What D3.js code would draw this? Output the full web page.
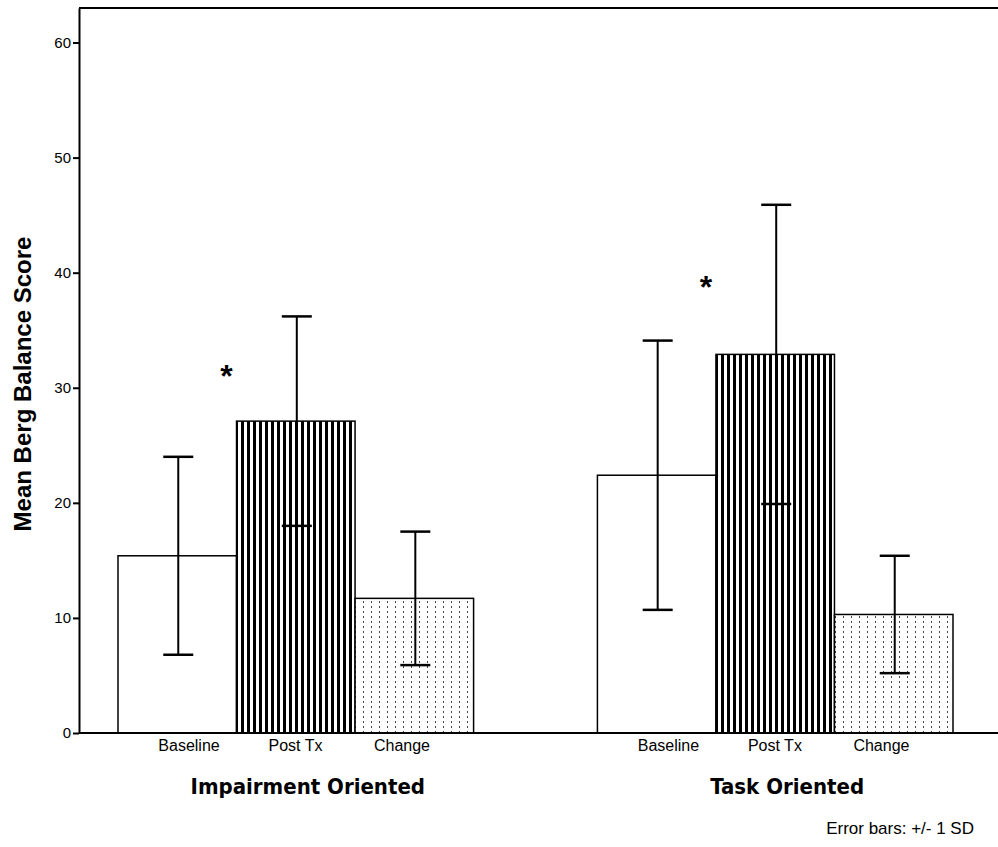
<!DOCTYPE html>
<html>
<head>
<meta charset="utf-8">
<script src="https://cdn.jsdelivr.net/npm/d3@7"></script>
<style>
  html, body { margin: 0; padding: 0; background: #fff; }
  svg { display: block; }
</style>
</head>
<body>
<svg id="chart" width="998" height="847"></svg>
<script>
// ---- data ----
const groups = ["Impairment Oriented", "Task Oriented"];
const categories = ["Baseline", "Post Tx", "Change"];
const impairmentMeans = [15.4, 27.1, 11.7];
const impairmentSD = [8.6, 9.1, 5.8];
const taskMeans = [22.4, 32.9, 10.3];
const taskSD = [11.7, 13.0, 5.1];
const yTicks = [0, 10, 20, 30, 40, 50, 60];
const significantCategory = "Post Tx";
const asteriskLevels = [31.3, 39.0];   // height (in score units) of the "*" marks, per group
const footnote = "Error bars: +/- 1 SD";
const yTitle = "Mean Berg Balance Score";

const data = [];
groups.forEach((g, gi) => {
  const means = gi === 0 ? impairmentMeans : taskMeans;
  const sds = gi === 0 ? impairmentSD : taskSD;
  categories.forEach((c, ci) => data.push({ group: g, cat: c, mean: means[ci], sd: sds[ci] }));
});

const svg = d3.select("#chart");
const W = 998;
const axisX = 79;

const y = d3.scaleLinear().domain([0, 63]).range([733, 8]);
const x0 = d3.scaleBand().domain(groups).range([118, 953]).paddingInner(0.2583).paddingOuter(0);
const x1 = d3.scaleBand().domain(categories).range([0, x0.bandwidth()]).padding(0);
const xLabel = d3.scalePoint().domain(categories).range([71, 284]);

// patterns
const defs = svg.append("defs");
const stripes = defs.append("pattern").attr("id", "stripes")
  .attr("patternUnits", "userSpaceOnUse").attr("width", 6).attr("height", 6);
stripes.append("rect").attr("width", 6).attr("height", 6).attr("fill", "#fff");
stripes.append("rect").attr("x", 1).attr("width", 3).attr("height", 6).attr("fill", "#000");

const dots = defs.append("pattern").attr("id", "dots")
  .attr("patternUnits", "userSpaceOnUse").attr("width", 8).attr("height", 5);
dots.append("rect").attr("width", 8).attr("height", 5).attr("fill", "#fff");
dots.append("rect").attr("x", 3).attr("y", 1).attr("width", 1).attr("height", 2).attr("fill", "#444");

const fills = { "Baseline": "#fff", "Post Tx": "url(#stripes)", "Change": "url(#dots)" };

// frame top line
svg.append("line").attr("x1", axisX).attr("x2", W).attr("y1", y(63)).attr("y2", y(63))
  .attr("stroke", "#000").attr("stroke-width", 2);

// bars
svg.append("g").selectAll("rect").data(data).join("rect")
  .attr("x", d => x0(d.group) + x1(d.cat))
  .attr("y", d => y(d.mean))
  .attr("width", x1.bandwidth())
  .attr("height", d => y(0) - y(d.mean))
  .attr("fill", d => fills[d.cat])
  .attr("stroke", "#000").attr("stroke-width", 1.5);

// error bars
const eb = svg.append("g").attr("stroke", "#000");
const cx = d => x0(d.group) + x1(d.cat) + x1.bandwidth() / 2 + 1;
eb.selectAll("line.v").data(data).join("line").attr("class", "v")
  .attr("x1", cx).attr("x2", cx)
  .attr("y1", d => y(d.mean + d.sd)).attr("y2", d => y(d.mean - d.sd))
  .attr("stroke-width", 2);
eb.selectAll("line.t").data(data).join("line").attr("class", "t")
  .attr("x1", d => cx(d) - 15).attr("x2", d => cx(d) + 15)
  .attr("y1", d => y(d.mean + d.sd)).attr("y2", d => y(d.mean + d.sd))
  .attr("stroke-width", 2.5);
eb.selectAll("line.b").data(data).join("line").attr("class", "b")
  .attr("x1", d => cx(d) - 15).attr("x2", d => cx(d) + 15)
  .attr("y1", d => y(d.mean - d.sd)).attr("y2", d => y(d.mean - d.sd))
  .attr("stroke-width", 2.5);

// significance asterisks
svg.append("g").selectAll("text").data(groups).join("text")
  .attr("x", (g) => x0(g) + x1(significantCategory) - 10)
  .attr("y", (g, i) => y(asteriskLevels[i]) + 14)
  .attr("text-anchor", "middle")
  .attr("font-family", "Liberation Sans, Arial, sans-serif")
  .attr("font-weight", "bold").attr("font-size", 32)
  .text("*");

// y axis
const yAxis = svg.append("g").attr("transform", `translate(${axisX},0)`)
  .call(d3.axisLeft(y).tickValues(yTicks).tickSize(6).tickSizeOuter(0).tickPadding(2));
yAxis.select(".domain").attr("stroke-width", 2);
yAxis.selectAll(".tick line").attr("stroke-width", 2);
yAxis.selectAll(".tick text").attr("font-family", "Liberation Sans, Arial, sans-serif")
  .attr("font-size", 15).attr("fill", "#000");

// x axis line
svg.append("line").attr("x1", axisX).attr("x2", W).attr("y1", y(0)).attr("y2", y(0))
  .attr("stroke", "#000").attr("stroke-width", 2);

// category labels
svg.append("g").selectAll("text").data(data).join("text")
  .attr("x", d => x0(d.group) + xLabel(d.cat))
  .attr("y", 751)
  .attr("text-anchor", "middle")
  .attr("font-family", "Liberation Sans, Arial, sans-serif")
  .attr("font-size", 16)
  .text(d => d.cat);

// group labels
svg.append("g").selectAll("text").data(groups).join("text")
  .attr("x", g => x0(g) + x0.bandwidth() / 2 + 12)
  .attr("y", 794)
  .attr("text-anchor", "middle")
  .attr("font-family", "DejaVu Sans Condensed, DejaVu Sans, Verdana, sans-serif")
  .attr("font-stretch", "condensed")
  .attr("font-weight", "bold").attr("font-size", 22)
  .text(g => g);

// y title
svg.append("text")
  .attr("transform", `translate(31, 384) rotate(-90)`)
  .attr("text-anchor", "middle")
  .attr("font-family", "Liberation Sans, Arial, sans-serif")
  .attr("font-weight", "bold").attr("font-size", 24)
  .text(yTitle);

// footnote
svg.append("text")
  .attr("x", 974).attr("y", 834)
  .attr("text-anchor", "end")
  .attr("font-family", "Liberation Sans, Arial, sans-serif")
  .attr("font-size", 17)
  .text(footnote);
</script>
</body>
</html>
